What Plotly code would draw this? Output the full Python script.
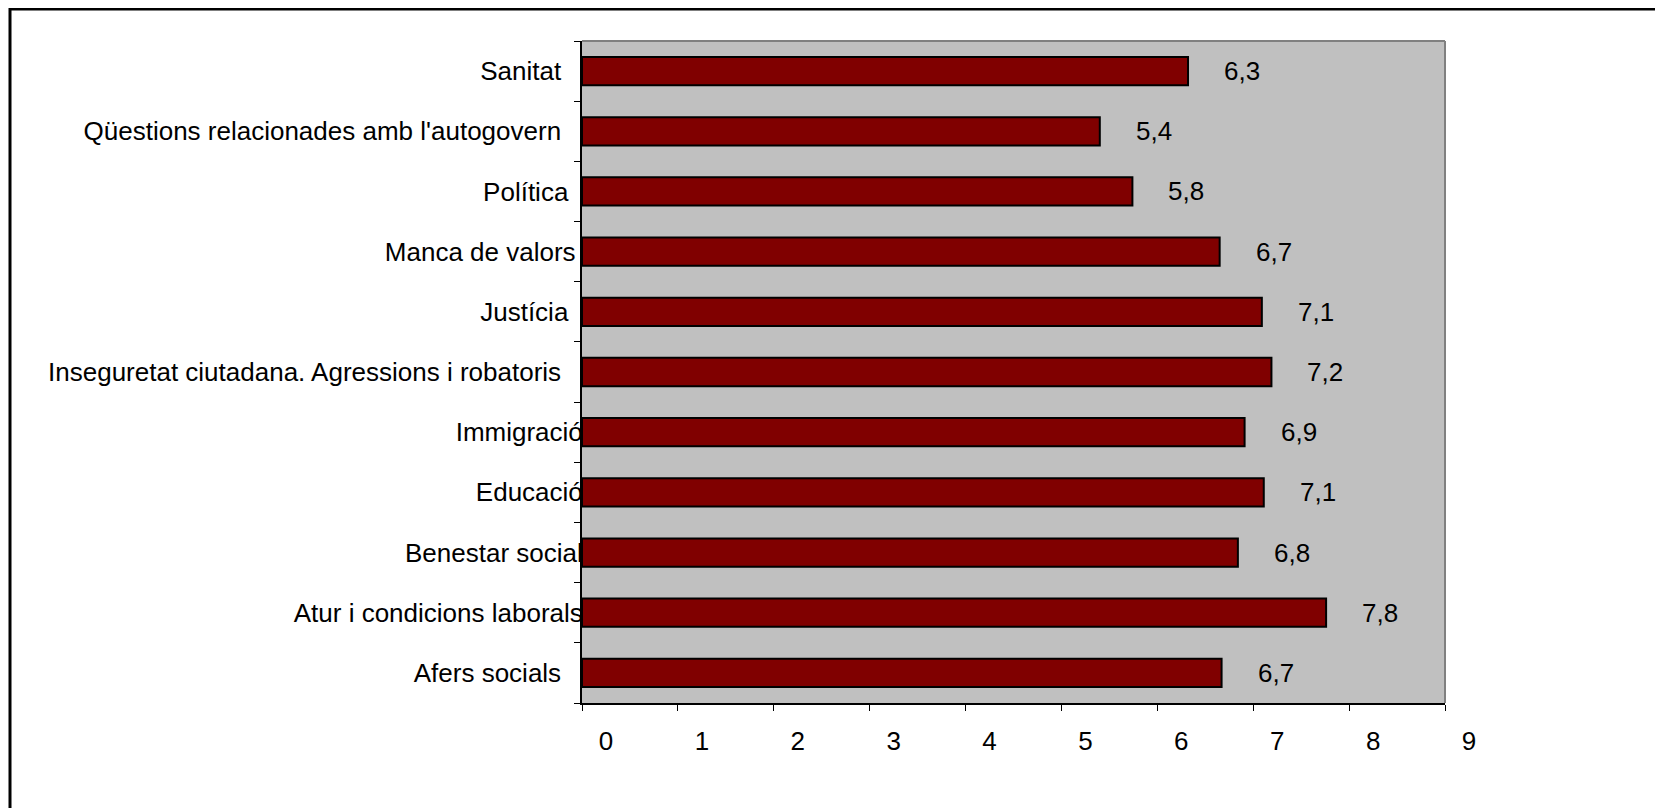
import plotly.graph_objects as go

# Categories, top to bottom as drawn
categories = [
    "Sanitat",
    "Qüestions relacionades amb l'autogovern",
    "Política",
    "Manca de valors",
    "Justícia",
    "Inseguretat ciutadana. Agressions i robatoris",
    "Immigració",
    "Educació",
    "Benestar social",
    "Atur i condicions laborals",
    "Afers socials",
]
# Bar lengths
bar_values = [6.32, 5.40, 5.74, 6.65, 7.09, 7.19, 6.91, 7.11, 6.84, 7.76, 6.67]
# Printed data labels
label_values = [6.3, 5.4, 5.8, 6.7, 7.1, 7.2, 6.9, 7.1, 6.8, 7.8, 6.7]
# Trailing blanks seen after some category labels
label_padding = [3, 3, 2, 1, 2, 3, 0, 0, 0, 0, 3]
x_ticks = [0, 1, 2, 3, 4, 5, 6, 7, 8, 9]

FONT = "Arial, Liberation Sans, sans-serif"
FS = 26

fig = go.Figure()
fig.add_trace(go.Bar(
    y=categories,
    x=bar_values,
    orientation="h",
    marker=dict(color="#800000", line=dict(color="#000000", width=2)),
    hoverinfo="x+y",
))

for cat, v, lab in zip(categories, bar_values, label_values):
    fig.add_annotation(
        x=v, y=cat, xref="x", yref="y",
        text=f"{lab:.1f}".replace(".", ","),
        showarrow=False, xanchor="left", yanchor="middle", xshift=34,
        font=dict(family=FONT, size=FS, color="#000000"),
    )

ticktext = [c + "\u00a0" * p for c, p in zip(categories, label_padding)]

fig.update_layout(
    width=1655, height=800,
    margin=dict(l=574, r=218, t=33, b=105),
    paper_bgcolor="#FFFFFF",
    plot_bgcolor="#C0C0C0",
    bargap=0.53,
    showlegend=False,
    font=dict(family=FONT, size=FS, color="#000000"),
    xaxis=dict(
        range=[0, 9], tickvals=x_ticks, ticktext=[str(t) for t in x_ticks],
        showgrid=False, zeroline=False,
        showline=True, linecolor="#000000", linewidth=2,
        ticks="outside", ticklen=6, tickcolor="#000000", tickwidth=1,
        ticklabelshift=24, ticklabelstandoff=8,
        tickfont=dict(family=FONT, size=FS, color="#000000"),
        fixedrange=True,
    ),
    yaxis=dict(
        categoryorder="array", categoryarray=categories,
        tickvals=categories, ticktext=ticktext,
        autorange="reversed",
        showgrid=False, zeroline=False,
        showline=True, linecolor="#000000", linewidth=2,
        ticks="outside", ticklen=6, tickcolor="#000000", tickwidth=1,
        tickson="boundaries", ticklabelstandoff=-8,
        tickfont=dict(family=FONT, size=FS, color="#000000"),
        fixedrange=True,
    ),
    shapes=[
        # gray plot-area border on top and right
        dict(type="line", xref="paper", yref="paper", x0=0, x1=1, y0=1, y1=1,
             line=dict(color="#808080", width=2)),
        dict(type="line", xref="paper", yref="paper", x0=1, x1=1, y0=0, y1=1,
             line=dict(color="#808080", width=2)),
        # outer black frame (extends beyond right and bottom edges)
        dict(type="rect", xref="paper", yref="paper",
             x0=-0.6628, x1=1.6, y0=-0.5, y1=1.0483,
             line=dict(color="#000000", width=3), layer="below"),
    ],
)

fig.write_html("out.html")
